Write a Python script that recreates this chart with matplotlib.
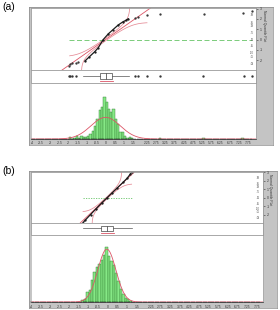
import matplotlib.pyplot as plt
import numpy as np
from statistics import NormalDist

plt.rcParams['font.family'] = ['Liberation Sans', 'DejaVu Sans']

# ---- data ----
bin_w = 0.125

# (a) raw data histogram, bins of 0.125 starting at -2.0
a_edges = np.arange(-2.0, 1.5, bin_w)
a_counts = [5, 0, 3, 8, 4, 8, 6, 5, 8, 15, 25, 40, 60, 85, 95, 125, 110, 90,
            80, 90, 60, 45, 20, 20, 10, 3, 5, 2]
a_tail_edges = [2.875, 5.25, 7.375]
a_tail_counts = [3, 3, 3]
a_mu, a_sd = 0.0, 0.8

# (a) normal quantile plot points: main body and stray points
a_qq_x = [-1.12, -0.9, -0.6, -0.4, -0.125, 0.15, 0.4, 0.69, 0.96, 1.1, 1.23]
a_qq_z = [-2.08, -1.7, -1.2, -0.8, 0.0, 0.55, 0.95, 1.41, 1.73, 1.85, 2.0]
a_qq_out_x = [-2.0, -1.93, -1.85, -1.6, -1.5, 1.6, 1.78, 2.25, 2.96, 5.35, 7.47, 7.95]
a_qq_out_z = [-2.6, -2.4, -2.3, -2.25, -2.2, 2.1, 2.2, 2.33, 2.43, 2.5, 2.6, 2.75]
a_band = (-1.95, 2.25)

# (a) box plot
a_box = dict(med=0.02, q1=-0.3, q3=0.35, whislo=-1.23, whishi=1.27,
             fliers=[-2.0, -1.93, -1.85, -1.6, 1.6, 1.76, 2.24, 2.96, 5.3, 7.5, 7.97])
a_short = (-0.3, 0.4)

# (b) cleaned data histogram
b_edges = np.arange(-1.375, 1.25, bin_w)
b_counts = [5, 10, 30, 35, 65, 90, 105, 115, 125, 140, 165, 137, 122, 112,
            88, 62, 40, 25, 12, 8, 4]
b_mu, b_sd = -0.05, 0.47

b_qq_x = [-1.29, -1.19, -0.9, -0.6, -0.3, -0.05, 0.2, 0.5, 0.8, 1.0, 1.16, 1.24]
b_qq_z = [-2.9, -2.65, -1.95, -1.25, -0.55, 0.0, 0.55, 1.2, 1.85, 2.3, 2.77, 3.0]
b_qq_out_x = []
b_qq_out_z = []
b_band = (-1.29, 1.24)

b_box = dict(med=-0.06, q1=-0.37, q3=0.29, whislo=-1.29, whishi=1.24, fliers=[])
b_short = (-0.33, 0.33)

tick_vals = [-4, -3.5, -3, -2.5, -2, -1.5, -1, -0.5, 0, 0.5, 1, 1.5,
             2.25, 2.75, 3.25, 3.75, 4.25, 4.75, 5.25, 5.75, 6.25, 6.75, 7.25, 7.75]
prob_labels = ['.01', '.05', '.10', '.25', '.50', '.75', '.90', '.95', '.99']
prob_vals = [0.01, 0.05, 0.10, 0.25, 0.50, 0.75, 0.90, 0.95, 0.99]
quant_ticks = [-2, -1, 0, 1, 2, 3]

W, H = 280, 310
fig = plt.figure(figsize=(2.8, 3.1), dpi=100)


def rect(x0, y0, x1, y1):
    return [x0 / W, 1 - y1 / H, (x1 - x0) / W, (y1 - y0) / H]


GRAY = '#c4c4c4'
SEP = '#9a9a9a'
RED = '#dc5566'
GREEN_FACE = '#86e886'
GREEN_EDGE = '#2f7a2f'
FS = 2.4


def panel(top, bottom, right, right_strip, qq_bot, box_bot, xlim,
          edges, counts, tails, tail_counts, mu, sd, qq_x, qq_z, out_x, out_z,
          band, box, short, ymax, green_ls, label):
    # gray frame
    bg = fig.add_axes(rect(29, top - 1, right_strip, bottom + 6))
    bg.set_facecolor(GRAY)
    bg.set_xticks([]); bg.set_yticks([])
    for s in bg.spines.values():
        s.set_color('#8a8a8a'); s.set_linewidth(0.5)

    fig.text(2 / W, 1 - (top - 1) / H, label, fontsize=7.5, va='center', ha='left')

    nd0 = NormalDist()
    fit = NormalDist(mu, sd)

    # --- normal quantile plot ---
    qq = fig.add_axes(rect(31, top, right, qq_bot))
    qq.set_xlim(xlim); qq.set_ylim(-2.95, 3.05)
    qq.set_xticks([])
    qq.yaxis.tick_right()
    qq.set_yticks(quant_ticks)
    qq.set_yticklabels([str(v) for v in quant_ticks])
    qq.tick_params(axis='y', labelsize=FS, length=1.5, width=0.4, pad=1, colors='#333333')
    for s in qq.spines.values():
        s.set_color(SEP); s.set_linewidth(0.6)
    for lab, p in zip(prob_labels, prob_vals):
        z = nd0.inv_cdf(p)
        qq.text(0.988, z, lab, transform=qq.get_yaxis_transform(),
                fontsize=FS - 0.3, ha='right', va='center', color='#555555')

    xs = np.linspace(xlim[0], xlim[1], 800)
    qq.plot(xs, (xs - mu) / sd, color=RED, lw=0.6)
    bx_s = np.linspace(band[0], band[1], 400)
    cdf = np.array([fit.cdf(x) for x in bx_s])
    D = 0.05
    for sign in (1, -1):
        q = cdf + sign * D
        ok = (q > 1e-5) & (q < 1 - 1e-5)
        qq.plot(bx_s[ok], [nd0.inv_cdf(v) for v in q[ok]], color='#e58a95', lw=0.55)
    lo_all = min(qq_x + out_x + [box['whislo']])
    hi_all = max(qq_x + out_x + [box['whishi']])
    qq.plot([lo_all, hi_all], [0, 0], color='#66c466', lw=0.6, ls=green_ls)
    qq.plot(qq_x, qq_z, color='#1a1a1a', lw=0.9, marker='.', ms=1.3)
    if out_x:
        qq.plot(out_x, out_z, ls='none', color='#333333', marker='.', ms=1.3)

    # --- box plot ---
    bx = fig.add_axes(rect(31, qq_bot, right, box_bot))
    bx.bxp([box], positions=[0.55], widths=0.42, orientation='horizontal',
           showcaps=False, patch_artist=True, manage_ticks=False,
           boxprops=dict(facecolor='white', edgecolor='#444444', linewidth=0.5),
           whiskerprops=dict(color='#555555', linewidth=0.5),
           medianprops=dict(color='#333333', linewidth=0.5),
           flierprops=dict(marker='.', markersize=1.4, markerfacecolor='#333333',
                           markeredgecolor='#333333'))
    bx.plot(list(short), [0.14, 0.14], color=RED, lw=0.6)
    bx.set_xlim(xlim); bx.set_ylim(0, 1)
    bx.set_xticks([]); bx.set_yticks([])
    for s in bx.spines.values():
        s.set_color(SEP); s.set_linewidth(0.6)

    # --- histogram ---
    hs = fig.add_axes(rect(31, box_bot, right, bottom))
    hs.set_xlim(xlim); hs.set_ylim(0, ymax)
    hs.bar(edges, counts, width=bin_w, align='edge', color=GREEN_FACE,
           edgecolor=GREEN_EDGE, linewidth=0.3)
    if tails:
        hs.bar(tails, tail_counts, width=bin_w, align='edge', color=GREEN_FACE,
               edgecolor=GREEN_EDGE, linewidth=0.3)
    n = sum(counts) + sum(tail_counts)
    hs.plot(xs, [n * bin_w * fit.pdf(x) for x in xs], color=RED, lw=0.6)
    hs.set_yticks([])
    hs.set_xticks(tick_vals)
    hs.set_xticklabels([f'{v:g}' for v in tick_vals])
    hs.set_xticks(np.arange(-4, 8.0, 0.125), minor=True)
    hs.tick_params(axis='x', labelsize=FS, length=1.6, width=0.3, pad=1,
                   direction='inout', colors='#333333')
    hs.tick_params(axis='x', which='minor', length=1.0, width=0.25, direction='inout')
    hs.spines['top'].set_color(SEP); hs.spines['top'].set_linewidth(0.6)
    hs.spines['left'].set_color(SEP); hs.spines['right'].set_color(SEP)
    hs.spines['left'].set_linewidth(0.4); hs.spines['right'].set_linewidth(0.4)
    hs.spines['bottom'].set_linewidth(0.4)

    fig.text((right + right_strip) / 2 / W, 1 - (top + 2) / H, 'Normal Quantile Plot',
             rotation=-90, fontsize=FS, ha='center', va='top', color='#333333')


panel(8, 139, 256, 273, 70, 83, (-4.05, 8.17),
      a_edges, a_counts, a_tail_edges, a_tail_counts, a_mu, a_sd,
      a_qq_x, a_qq_z, a_qq_out_x, a_qq_out_z, a_band,
      a_box, a_short, 167, (0, (6, 3)), '(a)')

panel(172, 302, 263, 277, 223, 235, (-4.0, 8.08),
      b_edges, b_counts, [], [], b_mu, b_sd,
      b_qq_x, b_qq_z, b_qq_out_x, b_qq_out_z, b_band,
      b_box, b_short, 201, (0, (1.5, 1.5)), '(b)')

plt.savefig('out.png', dpi=100)
